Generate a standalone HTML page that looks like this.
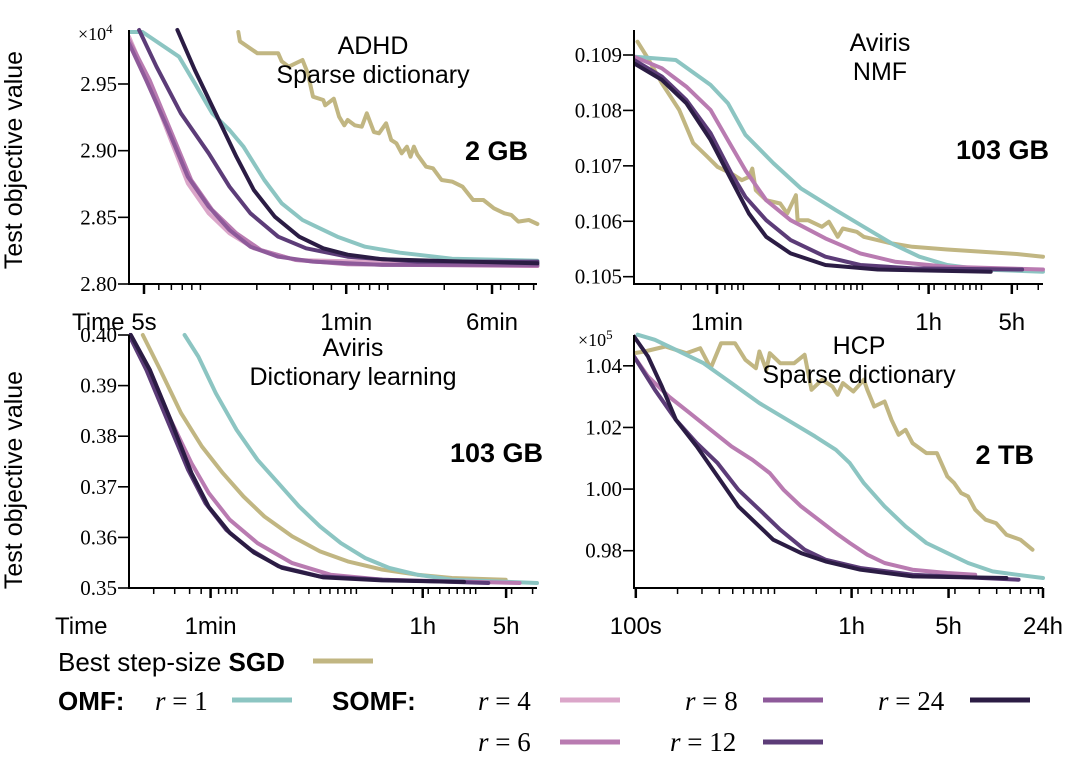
<!DOCTYPE html>
<html><head><meta charset="utf-8">
<style>
html,body{margin:0;padding:0;background:#fff;}
svg{display:block;}
text{font-family:"Liberation Sans",sans-serif;}
.tk{font-family:"Liberation Serif",serif;font-size:21px;}
.tt{font-size:25px;}
.bd{font-size:27px;font-weight:bold;}
.lg{font-size:26px;}
.lr{font-family:"Liberation Serif",serif;font-size:27px;}
</style></head>
<body>
<svg id="fig" width="1075" height="775" viewBox="0 0 1075 775" xmlns="http://www.w3.org/2000/svg">
<text x="14" y="160" class="tt" text-anchor="middle" transform="rotate(-90 14 160)" dy="8">Test objective value</text>
<text x="14" y="480" class="tt" text-anchor="middle" transform="rotate(-90 14 480)" dy="8">Test objective value</text>
<g>
<text x="58" y="671" class="lg">Best step-size <tspan font-weight="bold">SGD</tspan></text>
<line x1="313" y1="661" x2="373" y2="661" stroke="#c1b682" stroke-width="5"/>
<text x="58" y="710" class="lg" font-weight="bold">OMF:</text>
<text x="155" y="710" class="lr"><tspan font-style="italic">r</tspan> = 1</text>
<line x1="232" y1="700" x2="292" y2="700" stroke="#8cc5c2" stroke-width="5"/>
<text x="332" y="710" class="lg" font-weight="bold">SOMF:</text>
<text x="478" y="710" class="lr"><tspan font-style="italic">r</tspan> = 4</text>
<line x1="560" y1="700" x2="620" y2="700" stroke="#dba6c9" stroke-width="5"/>
<text x="685" y="710" class="lr"><tspan font-style="italic">r</tspan> = 8</text>
<line x1="763" y1="700" x2="823" y2="700" stroke="#8e5a9a" stroke-width="5"/>
<text x="878" y="710" class="lr"><tspan font-style="italic">r</tspan> = 24</text>
<line x1="970" y1="700" x2="1030" y2="700" stroke="#2b1c44" stroke-width="5"/>
<text x="478" y="751" class="lr"><tspan font-style="italic">r</tspan> = 6</text>
<line x1="560" y1="742" x2="620" y2="742" stroke="#b97bb1" stroke-width="5"/>
<text x="670" y="751" class="lr"><tspan font-style="italic">r</tspan> = 12</text>
<line x1="763" y1="742" x2="823" y2="742" stroke="#5c3c78" stroke-width="5"/>
</g>
</svg>
<script>
// ---- data: x = log10(seconds), y = objective ----
// Panel A: ADHD sparse dictionary (y in 1e4)
const aSgdX=[1.202,1.211,1.304,1.415,1.434,1.471,1.545,1.573,1.601,1.656,1.666,1.712,1.740,1.768,1.786,1.824,1.861,1.888,1.926,1.953,1.991,2.018,2.046,2.074,2.102,2.121,2.139,2.158,2.204,2.241,2.287,2.343,2.399,2.455,2.510,2.566,2.622,2.659,2.696,2.752,2.798];
const aSgdY=[2.989,2.982,2.973,2.973,2.967,2.963,2.968,2.958,2.9405,2.938,2.934,2.939,2.9255,2.919,2.923,2.919,2.918,2.928,2.914,2.913,2.9205,2.908,2.9055,2.898,2.903,2.8955,2.903,2.897,2.888,2.8868,2.878,2.8768,2.873,2.863,2.863,2.8568,2.853,2.8518,2.8468,2.848,2.845];
const aR1X=[0.626,0.691,0.886,0.970,1.063,1.155,1.230,1.341,1.434,1.545,1.619,1.731,1.879,2.065,2.343,2.798];
const aR1Y=[2.989,2.989,2.9705,2.9505,2.928,2.9155,2.903,2.878,2.8605,2.848,2.843,2.8355,2.828,2.8235,2.819,2.8175];
const aR4X=[0.619,0.710,0.821,0.933,1.044,1.155,1.285,1.508,2.798];
const aR4Y=[2.9855,2.9555,2.9155,2.8755,2.853,2.838,2.8268,2.818,2.8135];
const aR6X=[0.619,0.729,0.840,0.951,1.063,1.192,1.322,1.508,1.786,2.798];
const aR6Y=[2.983,2.953,2.9155,2.878,2.8555,2.838,2.8255,2.818,2.8148,2.8135];
const aR8X=[0.619,0.710,0.821,0.933,1.044,1.155,1.267,1.415,1.601,1.972,2.798];
const aR8Y=[2.9805,2.953,2.918,2.8805,2.858,2.8405,2.828,2.8205,2.8168,2.8143,2.8143];
const aR12X=[0.673,0.766,0.896,1.044,1.155,1.267,1.415,1.564,1.786,2.158,2.798];
const aR12Y=[2.9905,2.963,2.928,2.898,2.873,2.853,2.8355,2.8268,2.8205,2.8168,2.8168];
const aR24X=[0.877,0.970,1.081,1.192,1.285,1.397,1.527,1.656,1.786,1.972,2.343,2.798];
const aR24Y=[2.9905,2.9605,2.928,2.8955,2.8705,2.8505,2.8355,2.8268,2.822,2.8185,2.817,2.8155];
// Panel B: Aviris NMF
const bSgdX=[1.110,1.198,1.315,1.461,1.578,1.695,1.783,1.900,1.987,2.046,2.075,2.104,2.192,2.309,2.368,2.441,2.455,2.543,2.660,2.718,2.792,2.835,2.952,3.011,3.245,3.420,3.713,4.005,4.297,4.517];
const bSgdY=[0.10924,0.10894,0.10849,0.10801,0.10741,0.10717,0.10698,0.10686,0.10674,0.10680,0.10695,0.10656,0.10638,0.10632,0.10614,0.10647,0.10602,0.10602,0.10590,0.10599,0.10572,0.10587,0.10581,0.10572,0.10560,0.10554,0.10549,0.10545,0.10541,0.10536];
const bR1X=[1.081,1.432,1.724,1.870,2.017,2.251,2.485,2.777,3.011,3.245,3.479,3.713,4.005,4.517];
const bR1Y=[0.10897,0.10891,0.10846,0.10813,0.10756,0.10705,0.10659,0.10620,0.10590,0.10560,0.10536,0.10521,0.10513,0.10509];
const bR6X=[1.081,1.315,1.520,1.724,1.900,2.017,2.192,2.397,2.689,2.982,3.274,3.713,4.517];
const bR6Y=[0.10897,0.10876,0.10843,0.10801,0.10735,0.10692,0.10638,0.10602,0.10569,0.10542,0.10527,0.10518,0.10513];
const bR12X=[1.081,1.315,1.520,1.724,1.900,2.017,2.192,2.397,2.689,2.982,3.420,4.341];
const bR12Y=[0.10891,0.10861,0.10819,0.10759,0.10686,0.10644,0.10602,0.10566,0.10536,0.10521,0.10515,0.10513];
const bR24X=[1.081,1.315,1.520,1.724,1.900,2.046,2.192,2.397,2.689,3.128,4.078];
const bR24Y=[0.10885,0.10855,0.10813,0.10747,0.10674,0.10614,0.10572,0.10542,0.10521,0.10513,0.10509];
// Panel C: Aviris dictionary learning
const cSgdX=[1.210,1.356,1.531,1.705,1.880,2.054,2.229,2.462,2.695,2.928,3.219,3.510,3.801,4.252];
const cSgdY=[0.4,0.39309,0.38454,0.37796,0.3727,0.36809,0.36414,0.3602,0.35724,0.35526,0.35362,0.35263,0.35197,0.35164];
const cR1X=[1.560,1.676,1.822,1.996,2.171,2.346,2.520,2.695,2.869,3.073,3.277,3.510,3.801,4.514];
const cR1Y=[0.4,0.39572,0.38849,0.38125,0.37533,0.37072,0.36612,0.36217,0.35888,0.35592,0.35395,0.35263,0.35164,0.35099];
const cR6X=[1.109,1.269,1.443,1.618,1.763,1.938,2.171,2.462,2.782,3.219,4.368];
const cR6Y=[0.4,0.39309,0.38322,0.37467,0.36875,0.36349,0.35888,0.35493,0.35263,0.35164,0.35099];
const cR12X=[1.094,1.240,1.414,1.589,1.734,1.909,2.113,2.346,2.695,3.219,4.106];
const cR12Y=[0.4,0.39309,0.38322,0.37336,0.36678,0.36151,0.35757,0.35428,0.3523,0.35164,0.35099];
const cR24X=[1.109,1.269,1.443,1.618,1.763,1.938,2.142,2.375,2.724,3.219,3.903];
const cR24Y=[0.4,0.39309,0.38322,0.37270,0.36600,0.36090,0.35700,0.35400,0.35210,0.35150,0.35120];
// Panel D: HCP sparse dictionary (y in 1e5)
const dSgdX=[1.987,2.063,2.213,2.364,2.464,2.540,2.615,2.715,2.790,2.866,2.891,2.941,2.966,3.041,3.142,3.217,3.267,3.343,3.418,3.455,3.493,3.568,3.644,3.669,3.719,3.794,3.844,3.895,3.945,3.995,4.095,4.171,4.246,4.296,4.346,4.396,4.447,4.522,4.597,4.672,4.773,4.860];
const dSgdY=[1.04411,1.04465,1.04627,1.04411,1.04573,1.03924,1.04735,1.04735,1.04195,1.03924,1.04465,1.0387,1.04411,1.04086,1.04086,1.04357,1.03222,1.03546,1.03330,1.03059,1.03438,1.03168,1.03546,1.03222,1.02681,1.02843,1.02249,1.01762,1.01924,1.01492,1.01168,1.01168,1.00411,1.00195,0.99870,0.99762,0.99330,0.99005,0.98897,0.98519,0.98357,0.98032];
const dR1X=[2.013,2.138,2.289,2.489,2.690,2.891,3.092,3.292,3.443,3.543,3.644,3.794,3.945,4.095,4.246,4.396,4.572,4.748,4.936];
const dR1Y=[1.0501,1.04843,1.04519,1.04086,1.03438,1.02789,1.02249,1.01708,1.01276,1.00843,1.00195,0.99438,0.98789,0.98249,0.97924,0.97600,0.9733,0.97222,0.97114];
const dR6X=[1.987,2.088,2.238,2.389,2.540,2.690,2.841,2.966,3.066,3.192,3.317,3.443,3.543,3.669,3.794,3.995,4.246,4.447];
const dR6Y=[1.04303,1.03654,1.03005,1.02465,1.01924,1.01384,1.00951,1.00519,0.99978,0.99438,0.99005,0.98573,0.98249,0.9787,0.976,0.97384,0.97276,0.97222];
const dR12X=[1.987,2.138,2.289,2.439,2.590,2.740,2.891,3.041,3.217,3.368,3.619,3.995,4.760];
const dR12Y=[1.04303,1.03222,1.02249,1.01492,1.00843,0.99978,0.9933,0.98681,0.98032,0.97708,0.9744,0.97222,0.97059];
const dR24X=[1.987,2.088,2.188,2.289,2.439,2.590,2.740,2.891,2.991,3.192,3.368,3.619,3.995,4.672];
const dR24Y=[1.04951,1.04303,1.0333,1.02249,1.01384,1.00411,0.99438,0.98789,0.98357,0.97924,0.97654,0.97384,0.97168,0.97114];
// tick labels
const aYTicks=[2.80,2.85,2.90,2.95];
const aXTickVals=[0.699,1.778,2.556];
const aXTickLabels=["5s","1min","6min"];
const bYTicks=[0.105,0.106,0.107,0.108,0.109];
const bXTickVals=[1.778,3.556,4.255];
const bXTickLabels=["1min","1h","5h"];
const cYTicks=[0.35,0.36,0.37,0.38,0.39,0.40];
const cXTickVals=[1.778,3.556,4.255];
const cXTickLabels=["1min","1h","5h"];
const dYTicks=[0.98,1.00,1.02,1.04];
const dXTickVals=[2,3.556,4.255,4.936];
const dXTickLabels=["100s","1h","5h","24h"];

const C={sgd:"#c1b682",r1:"#8cc5c2",r4:"#dba6c9",r6:"#b97bb1",r8:"#8e5a9a",r12:"#5c3c78",r24:"#2b1c44"};
const NS="http://www.w3.org/2000/svg";
const svg=document.getElementById('fig');
function mk(tag,attrs,parent){const e=document.createElementNS(NS,tag);for(const k in attrs)e.setAttribute(k,attrs[k]);(parent||svg).appendChild(e);return e;}

function panel(id,box,dx,dy,yt,ydec,xv,xl,series,titles,size,mult){
  const g=mk('g',{});
  
  
  const X=v=>box.x0+(v-dx[0])/(dx[1]-dx[0])*(box.x1-box.x0);
  const Y=v=>box.yb+(v-dy[0])/(dy[1]-dy[0])*(box.yt-box.yb);
  const cp=mk('clipPath',{id:id+'-clip'},g);
  mk('rect',{x:box.x0,y:box.yt-3,width:box.x1-box.x0+6,height:box.yb-box.yt+3},cp);
  const lg=mk('g',{'clip-path':'url(#'+id+'-clip)'},g);
  series.forEach(s=>{
    const d=s.x.map((v,i)=>(i?'L':'M')+X(v).toFixed(1)+','+Y(s.y[i]).toFixed(1)).join('');
    const p=mk('path',{d:d,fill:'none',stroke:C[s.c],'stroke-width':4,'stroke-linejoin':'round','stroke-linecap':'round'},lg);
    
    
  });
  const ys=mk('line',{x1:box.x0,y1:box.yt,x2:box.x0,y2:box.yb,stroke:'#000','stroke-width':2},g);
  
  
  const xs=mk('line',{x1:box.x0-1,y1:box.yb,x2:box.x1,y2:box.yb,stroke:'#000','stroke-width':2},g);
  
  
  yt.forEach(v=>{
    const y=Y(v);
    mk('line',{x1:box.x0-11,y1:y,x2:box.x0,y2:y,stroke:'#000','stroke-width':1.6},g);
    const t=mk('text',{x:box.x0-12,y:y+7,'text-anchor':'end',class:'tk'},g);
    t.textContent=v.toFixed(ydec);
    
    
  });
  for(let k=Math.floor(dx[0]);k<=Math.ceil(dx[1]);k++){
    for(let m=1;m<10;m++){
      const lv=k+Math.log10(m);
      if(lv<dx[0]||lv>dx[1])continue;
      const x=X(lv);
      mk('line',{x1:x,y1:box.yb,x2:x,y2:box.yb+6,stroke:'#000','stroke-width':1.5},g);
    }
  }
  xv.forEach((v,i)=>{
    const x=X(v);
    mk('line',{x1:x,y1:box.yb,x2:x,y2:box.yb+10,stroke:'#000','stroke-width':2.5},g);
    const t=mk('text',{x:x,y:box.yb+46,'text-anchor':'middle',style:'font-size:24px'},g);
    t.textContent=xl[i];
    
    
  });
  titles.lines.forEach((s,i)=>{
    const t=mk('text',{x:titles.cx,y:titles.y+i*29,'text-anchor':'middle',class:'tt'},g);
    t.textContent=s;
    
    
  });
  const sz=mk('text',{x:size.x,y:size.y,'text-anchor':'end',class:'bd'},g);
  sz.textContent=size.t;
  
  
  if(mult){
    const m=mk('text',{x:mult.x,y:mult.y,class:'tk',style:'font-size:18px'},g);
    m.innerHTML='×10<tspan dy="-7" font-size="13">'+mult.e+'</tspan>';
    
    
  }
}

panel('panel-adhd',{x0:129,x1:537,yb:284,yt:30},[0.619,2.796],[2.80,2.9905],aYTicks,2,aXTickVals,aXTickLabels,
 [{x:aSgdX,y:aSgdY,c:'sgd'},{x:aR1X,y:aR1Y,c:'r1'},{x:aR4X,y:aR4Y,c:'r4'},{x:aR6X,y:aR6Y,c:'r6'},{x:aR8X,y:aR8Y,c:'r8'},{x:aR12X,y:aR12Y,c:'r12'},{x:aR24X,y:aR24Y,c:'r24'}],
 {cx:373,y:54,lines:['ADHD','Sparse dictionary']},{x:528,y:160,t:'2 GB'},{x:78,y:40,e:4});
panel('panel-aviris-nmf',{x0:634,x1:1043,yb:284,yt:30},[1.081,4.517],[0.104868,0.109451],bYTicks,3,bXTickVals,bXTickLabels,
 [{x:bSgdX,y:bSgdY,c:'sgd'},{x:bR1X,y:bR1Y,c:'r1'},{x:bR6X,y:bR6Y,c:'r6'},{x:bR12X,y:bR12Y,c:'r12'},{x:bR24X,y:bR24Y,c:'r24'}],
 {cx:880,y:51,lines:['Aviris','NMF']},{x:1049,y:159,t:'103 GB'},null);
panel('panel-aviris-dl',{x0:129,x1:537,yb:588,yt:335},[1.094,4.514],[0.35,0.40],cYTicks,2,cXTickVals,cXTickLabels,
 [{x:cSgdX,y:cSgdY,c:'sgd'},{x:cR1X,y:cR1Y,c:'r1'},{x:cR6X,y:cR6Y,c:'r6'},{x:cR12X,y:cR12Y,c:'r12'},{x:cR24X,y:cR24Y,c:'r24'}],
 {cx:353,y:356,lines:['Aviris','Dictionary learning']},{x:543,y:462,t:'103 GB'},null);
panel('panel-hcp',{x0:634,x1:1043,yb:588,yt:335},[1.987,4.936],[0.9679,1.0500],dYTicks,2,dXTickVals,dXTickLabels,
 [{x:dSgdX,y:dSgdY,c:'sgd'},{x:dR1X,y:dR1Y,c:'r1'},{x:dR6X,y:dR6Y,c:'r6'},{x:dR12X,y:dR12Y,c:'r12'},{x:dR24X,y:dR24Y,c:'r24'}],
 {cx:859,y:354,lines:['HCP','Sparse dictionary']},{x:1034,y:464,t:'2 TB'},{x:578,y:346,e:5});
[[72,330,24],[55,634,24]].forEach(p=>{
  const t=mk('text',{x:p[0],y:p[1],style:'font-size:'+p[2]+'px'});
  t.textContent='Time';
  
  
});
</script>
</body></html>
